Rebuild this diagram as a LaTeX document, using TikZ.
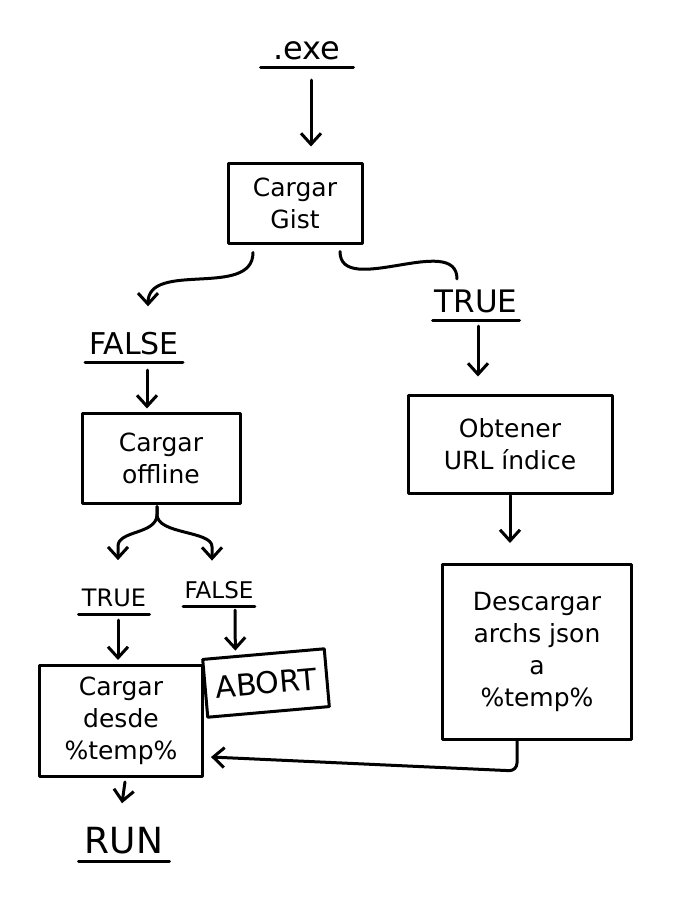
\documentclass[tikz,border=0pt]{standalone}
\usepackage{fontspec}
\setmainfont{DejaVu Sans}
\usetikzlibrary{arrows.meta}
\begin{document}
\begin{tikzpicture}[x=1pt,y=1pt,
  line width=3pt, line cap=round, line join=round,
  box/.style={draw, rectangle, align=center, inner sep=0pt,
    font=\fontsize{25}{32}\selectfont},
  tag/.style={anchor=south, inner xsep=0pt, inner ysep=6pt},
  arr/.style={-{Straight Barb[length=11pt,width=20pt]}}]

\useasboundingbox (0,0) rectangle (680,-916);

% labels (underlined)
\node[tag, minimum width=90pt, font=\fontsize{32}{32}\selectfont] (exe) at (307,-67) {.exe};
\node[tag, minimum width=95pt, font=\fontsize{30}{30}\selectfont] (false1) at (134,-362) {FALSE};
\node[tag, minimum width=84pt, font=\fontsize{31}{31}\selectfont] (true1) at (476,-320) {TRUE};
\node[tag, minimum width=68pt, font=\fontsize{24}{24}\selectfont] (true2) at (114,-614) {TRUE};
\node[tag, minimum width=62pt, font=\fontsize{23}{23}\selectfont] (false2) at (219,-606) {FALSE};
\node[tag, minimum width=88pt, font=\fontsize{36}{36}\selectfont] (run) at (124,-861) {RUN};
\foreach \n in {exe,false1,true1,true2,false2,run}
  \draw (\n.south west) -- (\n.south east);

% process boxes
\node[box, minimum width=134pt, minimum height=80pt] (gist) at (295,-203) {Cargar\\Gist};
\node[box, minimum width=158pt, minimum height=90pt] (offline) at (161,-458) {Cargar\\offline};
\node[box, minimum width=204pt, minimum height=98pt] (obtener) at (510,-444) {Obtener\\URL índice};
\node[box, minimum width=189pt, minimum height=175pt] (descargar) at (537,-652) {Descargar\\archs json\\a\\\%temp\%};
\node[box, minimum width=163pt, minimum height=111pt] (desde) at (121,-721) {Cargar\\desde\\\%temp\%};
\node[box, minimum width=122pt, minimum height=58pt, rotate=5,
  font=\fontsize{30}{30}\selectfont] (abort) at (266,-683) {ABORT};

% connectors
\draw[arr] ([xshift=4pt,yshift=-13pt]exe.south) -- ([xshift=16pt,yshift=15pt]gist.north);
\draw[arr] ([xshift=-42pt,yshift=-8pt]gist.south) to[out=-90,in=90] ([xshift=14pt,yshift=18pt]false1.north);
\draw ([xshift=45pt,yshift=-7pt]gist.south) to[out=-90,in=90] ([xshift=-19pt,yshift=3pt]true1.north);
\draw[arr] ([xshift=13pt,yshift=-8pt]false1.south) -- ([xshift=-14pt,yshift=3pt]offline.north);
\draw[arr] ([xshift=2pt,yshift=-6pt]true1.south) -- ([xshift=-32pt,yshift=17pt]obtener.north);
\draw[arr] ([yshift=-1pt]obtener.south) -- ([xshift=-27pt,yshift=20pt]descargar.north);
% fork below the offline box
\draw[arr] ([xshift=-4pt,yshift=-2pt]offline.south) -- ++(0,-8)
  .. controls +(0,-20) and +(0,16) .. ([xshift=4pt,yshift=35pt]true2.north)
  -- ([xshift=4pt,yshift=21pt]true2.north);
\draw[arr] ([xshift=-4pt,yshift=-2pt]offline.south) -- ++(0,-8)
  .. controls +(0,-20) and +(0,16) .. ([xshift=-7pt,yshift=27pt]false2.north)
  -- ([xshift=-7pt,yshift=13pt]false2.north);
\draw[arr] ([xshift=4pt,yshift=-6pt]true2.south) -- ([xshift=-3pt,yshift=4pt]desde.north);
\draw[arr] ([xshift=16pt,yshift=-4pt]false2.south) -- ([xshift=-28pt,yshift=2pt]abort.north);
\draw[arr, rounded corners=8pt] ([xshift=-20pt]descargar.south) -- ++(0,-30) -- ([xshift=7pt,yshift=-36pt]desde.east);
\draw[arr] ([xshift=4pt,yshift=-4pt]desde.south) -- ([xshift=-2pt,yshift=16pt]run.north);
\end{tikzpicture}
\end{document}
